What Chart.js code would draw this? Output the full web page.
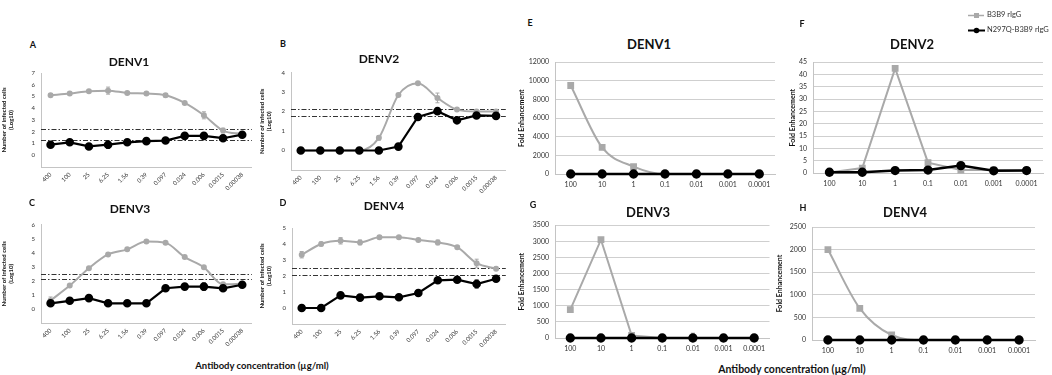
<!DOCTYPE html>
<html>
<head>
<meta charset="utf-8">
<script src="https://cdn.jsdelivr.net/npm/chart.js@4.4.1/dist/chart.umd.min.js"></script>
<style>
  body { margin: 0; background: #fff; width: 1052px; height: 375px; position: relative; overflow: hidden; font-family: Lato, "Open Sans", sans-serif; }
  canvas { position: absolute; }
  .t { position: absolute; font-weight: bold; color: #111; white-space: nowrap; transform: translate(-50%, -50%); }
  .leg { position: absolute; font-size: 7.5px; color: #333; white-space: nowrap; }
</style>
</head>
<body>
<script>
// x categories (antibody concentration, ug/ml)
var concLeft = ['400', '100', '25', '6.25', '1.56', '0.39', '0.097', '0.024', '0.006', '0.0015', '0.00038'];
var concRight = ['100', '10', '1', '0.1', '0.01', '0.001', '0.0001'];

// panels A-D: number of infected cells (log10)
var denv1Wt  = [5.1, 5.25, 5.45, 5.5, 5.3, 5.25, 5.1, 4.45, 3.4, 2.1, 1.8];
var denv1Mut = [0.9, 1.1, 0.75, 0.9, 1.1, 1.2, 1.25, 1.65, 1.65, 1.45, 1.75];
var denv1WtErr  = [0.1, 0.1, 0.1, 0.3, 0.1, 0.1, 0.15, 0.1, 0.3, 0.2, 0.2];
var denv1MutErr = [0.1, 0.1, 0.1, 0.3, 0.1, 0.1, 0.1, 0.1, 0.1, 0.25, 0.15];
var denv1Cut = [2.25, 1.3];

var denv2Wt  = [0, 0, 0, 0, 0.65, 2.85, 3.45, 2.7, 2.1, 2.0, 2.0];
var denv2Mut = [0, 0, 0, 0, 0, 0.2, 1.72, 2.02, 1.55, 1.8, 1.78];
var denv2WtErr  = [0.15, 0.1, 0.1, 0.1, 0.12, 0.05, 0.05, 0.25, 0.08, 0.05, 0.05];
var denv2MutErr = [0.1, 0.1, 0.1, 0.1, 0.15, 0.05, 0.1, 0.1, 0.1, 0.05, 0.05];
var denv2Cut = [2.12, 1.78];

var denv3Wt  = [0.6, 1.66, 2.9, 3.88, 4.24, 4.8, 4.7, 3.69, 2.96, 1.75, 1.8];
var denv3Mut = [0.4, 0.58, 0.77, 0.4, 0.4, 0.4, 1.47, 1.59, 1.59, 1.47, 1.72];
var denv3WtErr  = [0.25, 0.05, 0.05, 0.05, 0.05, 0.05, 0.05, 0.05, 0.05, 0.05, 0.05];
var denv3MutErr = [0.1, 0.1, 0.1, 0.05, 0.05, 0.05, 0.1, 0.1, 0.25, 0.1, 0.1];
var denv3Cut = [2.46, 2.12];

var denv4Wt  = [3.33, 4.0, 4.2, 4.1, 4.42, 4.42, 4.25, 4.1, 3.8, 2.8, 2.46];
var denv4Mut = [0, 0, 0.79, 0.65, 0.73, 0.67, 0.94, 1.73, 1.77, 1.5, 1.83];
var denv4WtErr  = [0.2, 0.12, 0.2, 0.15, 0.1, 0.1, 0.1, 0.15, 0.08, 0.25, 0.1];
var denv4MutErr = [0.05, 0.05, 0.05, 0.05, 0.05, 0.05, 0.05, 0.05, 0.05, 0.25, 0.1];
var denv4Cut = [2.48, 2.08];

// panels E-H: fold enhancement
var fold1Wt  = [9500, 2850, 800, 0, 0, 0, 0];
var fold1Mut = [0, 0, 0, 0, 0, 0, 0];
var fold2Wt  = [0.2, 2, 42.5, 4.2, 1.2, 1.2, 1.0];
var fold2Mut = [0.3, 0.3, 1.0, 1.2, 3.0, 0.9, 1.0];
var fold3Wt  = [880, 3050, 80, 0, 0, 0, 0];
var fold3Mut = [0, 0, 0, 0, 0, 0, 0];
var fold3WtErr = [0, 0, 0, 0, 150, 0, 0];
var fold4Wt  = [2000, 700, 110, 0, 0, 0, 0];
var fold4Mut = [0, 0, 0, 0, 0, 0, 0];

var seriesNames = ['B3B9 rIgG', 'N297Q-B3B9 rIgG'];
var GRAY = '#a9a9a9';
var BLACK = '#000000';

// dash-dot cut-off lines across the plot
var cutLines = {
  id: 'cutLines',
  beforeDatasetsDraw: function(chart) {
    var lines = chart.options.cutoff || [];
    var ctx = chart.ctx, a = chart.chartArea, y = chart.scales.y;
    ctx.save();
    ctx.strokeStyle = '#333';
    ctx.lineWidth = 1;
    ctx.setLineDash([5, 2, 1.5, 2]);
    lines.forEach(function(v) {
      var py = Math.round(y.getPixelForValue(v)) + 0.5;
      ctx.beginPath(); ctx.moveTo(a.left, py); ctx.lineTo(a.right, py); ctx.stroke();
    });
    ctx.restore();
  }
};

// simple vertical error bars
var errBars = {
  id: 'errBars',
  beforeDatasetsDraw: function(chart) {
    var ctx = chart.ctx, y = chart.scales.y;
    chart.data.datasets.forEach(function(ds, i) {
      if (!ds.errors) return;
      var meta = chart.getDatasetMeta(i);
      ctx.save();
      ctx.strokeStyle = ds.borderColor;
      ctx.lineWidth = 1;
      meta.data.forEach(function(pt, j) {
        var e = ds.errors[j];
        if (!e) return;
        var y1 = y.getPixelForValue(ds.data[j] + e), y2 = y.getPixelForValue(Math.max(ds.data[j] - e, y.min));
        ctx.beginPath();
        ctx.moveTo(pt.x, y1); ctx.lineTo(pt.x, y2);
        ctx.moveTo(pt.x - 2, y1); ctx.lineTo(pt.x + 2, y1);
        ctx.moveTo(pt.x - 2, y2); ctx.lineTo(pt.x + 2, y2);
        ctx.stroke();
      });
      ctx.restore();
    });
  }
};

function addText(txt, x, y, size) {
  var d = document.createElement('div');
  d.className = 't';
  d.textContent = txt;
  d.style.left = x + 'px';
  d.style.top = y + 'px';
  d.style.fontSize = size + 'px';
  document.body.appendChild(d);
}

function makePanel(box, area, o) {
  var cv = document.createElement('canvas');
  cv.width = box.w; cv.height = box.h;
  cv.style.left = box.x + 'px'; cv.style.top = box.y + 'px';
  document.body.appendChild(cv);
  var yW = area.l - box.x, xH = box.y + box.h - area.b;
  var left = o.kind == 'left';
  return new Chart(cv, {
    type: 'line',
    data: {
      labels: o.labels,
      datasets: [
        { label: seriesNames[0], data: o.wt, errors: o.wtErr, borderColor: GRAY, backgroundColor: GRAY, order: 2,
          borderWidth: 2, pointStyle: left ? 'circle' : 'rect', pointRadius: left ? 2 : 3.4,
          cubicInterpolationMode: o.smooth ? 'monotone' : 'default', tension: 0 },
        { label: seriesNames[1], data: o.mut, errors: o.mutErr, borderColor: BLACK, backgroundColor: BLACK, order: 1,
          borderWidth: left ? 2.2 : 2.5, pointStyle: 'circle', pointRadius: left ? 3.2 : 3.4, tension: 0 }
      ]
    },
    options: {
      responsive: false,
      animation: false,
      clip: false,
      cutoff: o.cut,
      layout: { padding: { left: 0, top: area.t - box.y, right: box.x + box.w - area.r, bottom: 0 } },
      plugins: { legend: { display: false }, tooltip: { enabled: false } },
      scales: {
        x: {
          offset: true,
          grid: { display: false, drawTicks: false },
          border: { color: '#c4c4c4', width: 1 },
          ticks: left
            ? { color: '#333', font: { size: 6, family: 'Lato' }, minRotation: 45, maxRotation: 45, padding: 4, autoSkip: false }
            : { color: '#333', font: { size: 7, family: 'Lato' }, maxRotation: 0, padding: 7, autoSkip: false },
          afterFit: function(s) { s.height = xH; }
        },
        y: {
          min: o.min, max: o.max,
          grid: left ? { display: false, drawTicks: false } : { color: '#cfcfcf', drawTicks: false },
          border: { color: '#c4c4c4', width: 1 },
          ticks: { stepSize: o.step, padding: 6, color: '#333', font: { size: left ? 6 : 7, family: 'Lato' },
                   callback: function(v) { return v < 0 ? '' : v; } },
          title: { display: true, text: o.yTitle, color: '#111', font: { size: left ? 6 : 7, weight: 'bold', family: 'Lato' }, padding: 0 },
          afterFit: function(s) { s.width = yW; }
        }
      }
    },
    plugins: [cutLines, errBars]
  });
}

var logTitle = ['Number of infected cells', '(Log10)'];
var foldTitle = 'Fold Enhancement';

makePanel({ x: 0, y: 63, w: 258, h: 135 }, { l: 41, t: 73, r: 252, b: 167 },
  { kind: 'left', smooth: true, labels: concLeft, wt: denv1Wt, mut: denv1Mut, wtErr: denv1WtErr, mutErr: denv1MutErr, cut: denv1Cut, min: -1, max: 7, step: 1, yTitle: logTitle });
makePanel({ x: 258, y: 63, w: 254, h: 135 }, { l: 291, t: 72, r: 506, b: 170 },
  { kind: 'left', smooth: true, labels: concLeft, wt: denv2Wt, mut: denv2Mut, wtErr: denv2WtErr, mutErr: denv2MutErr, cut: denv2Cut, min: -1, max: 4, step: 0.5, yTitle: logTitle });
makePanel({ x: 0, y: 215, w: 258, h: 140 }, { l: 41, t: 224, r: 255, b: 323 },
  { kind: 'left', smooth: true, labels: concLeft, wt: denv3Wt, mut: denv3Mut, wtErr: denv3WtErr, mutErr: denv3MutErr, cut: denv3Cut, min: -1, max: 6, step: 1, yTitle: logTitle });
makePanel({ x: 258, y: 215, w: 254, h: 140 }, { l: 292, t: 228, r: 506, b: 324 },
  { kind: 'left', smooth: true, labels: concLeft, wt: denv4Wt, mut: denv4Mut, wtErr: denv4WtErr, mutErr: denv4MutErr, cut: denv4Cut, min: -1, max: 5, step: 1, yTitle: logTitle });

makePanel({ x: 518, y: 52, w: 272, h: 143 }, { l: 555, t: 59, r: 775, b: 174 },
  { kind: 'right', smooth: true, labels: concRight, wt: fold1Wt, mut: fold1Mut, min: 0, max: 12000, step: 2000, yTitle: foldTitle });
makePanel({ x: 789, y: 52, w: 263, h: 143 }, { l: 813, t: 60, r: 1043, b: 173 },
  { kind: 'right', smooth: false, labels: concRight, wt: fold2Wt, mut: fold2Mut, min: 0, max: 45, step: 5, yTitle: foldTitle });
makePanel({ x: 518, y: 215, w: 258, h: 145 }, { l: 555, t: 224, r: 775, b: 338 },
  { kind: 'right', smooth: false, labels: concRight, wt: fold3Wt, mut: fold3Mut, wtErr: fold3WtErr, min: 0, max: 3500, step: 500, yTitle: foldTitle });
makePanel({ x: 776, y: 215, w: 276, h: 145 }, { l: 812, t: 227, r: 1035, b: 340 },
  { kind: 'right', smooth: true, labels: concRight, wt: fold4Wt, mut: fold4Mut, min: 0, max: 2500, step: 500, yTitle: foldTitle });

// panel letters and titles
addText('A', 33, 44, 9); addText('B', 283, 43, 9); addText('C', 32, 202, 9); addText('D', 283, 202, 9);
addText('E', 530, 22, 9); addText('F', 802, 23, 9); addText('G', 533, 204, 9); addText('H', 803, 207, 9);
addText('DENV1', 129, 61, 12); addText('DENV2', 379, 58, 12); addText('DENV3', 130, 208, 12); addText('DENV4', 384, 205, 12);
addText('DENV1', 649, 44, 13); addText('DENV2', 912, 44, 13); addText('DENV3', 648, 212, 13); addText('DENV4', 905, 212, 13);
addText('Antibody concentration (\u00b5g/ml)', 262, 365, 9.5);
addText('Antibody concentration (\u00b5g/ml)', 792, 369, 10.5);

// legend
var leg = document.createElement('canvas');
leg.width = 24; leg.height = 36;
leg.style.left = '965px'; leg.style.top = '0px';
document.body.appendChild(leg);
var lc = leg.getContext('2d');
lc.strokeStyle = GRAY; lc.lineWidth = 1.5;
lc.beginPath(); lc.moveTo(3, 15.5); lc.lineTo(19, 15.5); lc.stroke();
lc.fillStyle = GRAY; lc.fillRect(9, 13, 5, 5);
lc.strokeStyle = BLACK; lc.lineWidth = 2;
lc.beginPath(); lc.moveTo(3, 30.5); lc.lineTo(20, 30.5); lc.stroke();
lc.fillStyle = BLACK; lc.beginPath(); lc.arc(11.5, 30.5, 2.8, 0, Math.PI * 2); lc.fill();
[seriesNames[0], seriesNames[1]].forEach(function(n, i) {
  var d = document.createElement('div');
  d.className = 'leg';
  d.textContent = n;
  d.style.left = '987px';
  d.style.top = (i == 0 ? 10 : 25) + 'px';
  document.body.appendChild(d);
});
</script>
</body>
</html>
